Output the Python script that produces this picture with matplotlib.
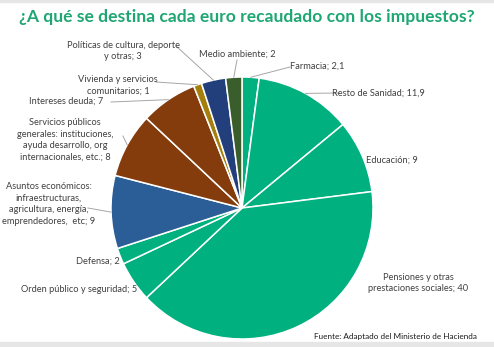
import matplotlib
matplotlib.use("Agg")
import matplotlib.pyplot as plt
from matplotlib.patches import Rectangle
import numpy as np

# Datos: destino de cada euro recaudado (en céntimos)
categories = [
    "Farmacia",
    "Resto de Sanidad",
    "Educación",
    "Pensiones y otras\nprestaciones sociales",
    "Orden público y seguridad",
    "Defensa",
    "Asuntos económicos:\ninfraestructuras,\nagricultura, energía,\nemprendedores,  etc",
    "Servicios públicos\ngenerales: instituciones,\nayuda desarrollo, org\ninternacionales, etc.",
    "Intereses deuda",
    "Vivienda y servicios\ncomunitarios",
    "Políticas de cultura, deporte\ny otras",
    "Medio ambiente",
]
values = [2.1, 11.9, 9, 40, 5, 2, 9, 8, 7, 1, 3, 2]

colors = ["#00b07f", "#00b07f", "#00b07f", "#00b07f", "#00b07f", "#00b07f",
          "#2b5d97", "#843c0c", "#843c0c", "#a57f0d", "#223f7c", "#3a5e2b"]

# posiciones de las etiquetas (píxeles) y fin de la línea guía
label_pos = [(317, 66), (378, 93), (392, 160), (418, 283), (79, 290),
             (98, 261), (49, 204), (65, 140), (66, 101), (118, 85),
             (123, 51), (237, 54)]
leader_end = [(290, 67), (339, 93), None, None, None, None, (88, 208),
              (123, 136), (111, 102), (156, 82), (176, 46), (237, 60)]


def fmt(v):
    return ("%g" % v).replace(".", ",")


fig = plt.figure(figsize=(4.94, 3.47), dpi=100)
ax = fig.add_axes([0, 0, 1, 1])

cx, cy, r = 242, 208, 131
wedges, _ = ax.pie(values, colors=colors, startangle=-90, counterclock=True,
                   center=(cx, cy), radius=r,
                   wedgeprops=dict(edgecolor="white", linewidth=1.1))
ax.set_xlim(0, 494)
ax.set_ylim(347, 0)
ax.set_aspect("auto")
ax.axis("off")

for w, name, v, pos, end in zip(wedges, categories, values, label_pos, leader_end):
    ax.text(pos[0], pos[1], "%s; %s" % (name, fmt(v)), ha="center", va="center",
            fontsize=6.7, family="Lato", color="#404040", linespacing=1.35)
    if end is not None:
        mid = np.deg2rad((w.theta1 + w.theta2) / 2)
        px, py = cx + r * np.cos(mid), cy + r * np.sin(mid)
        ax.plot([px, end[0]], [py, end[1]], color="#a6a6a6", lw=0.7)

ax.text(247, 17, "¿A qué se destina cada euro recaudado con los impuestos?",
        ha="center", va="center", fontsize=12.6, family="Lato", weight="bold",
        color="#1ea673")
ax.text(395, 337, "Fuente: Adaptado del Ministerio de Hacienda", ha="center",
        va="center", fontsize=5.9, family="Lato", color="#1a1a1a")

# bandas grises del recorte original
ax.add_patch(Rectangle((0, 342), 494, 5, color="#e6e6e6", zorder=0))
ax.add_patch(Rectangle((0, 0), 494, 1.5, color="#e6e6e6", zorder=0))

fig.savefig("out.png", dpi=100)
